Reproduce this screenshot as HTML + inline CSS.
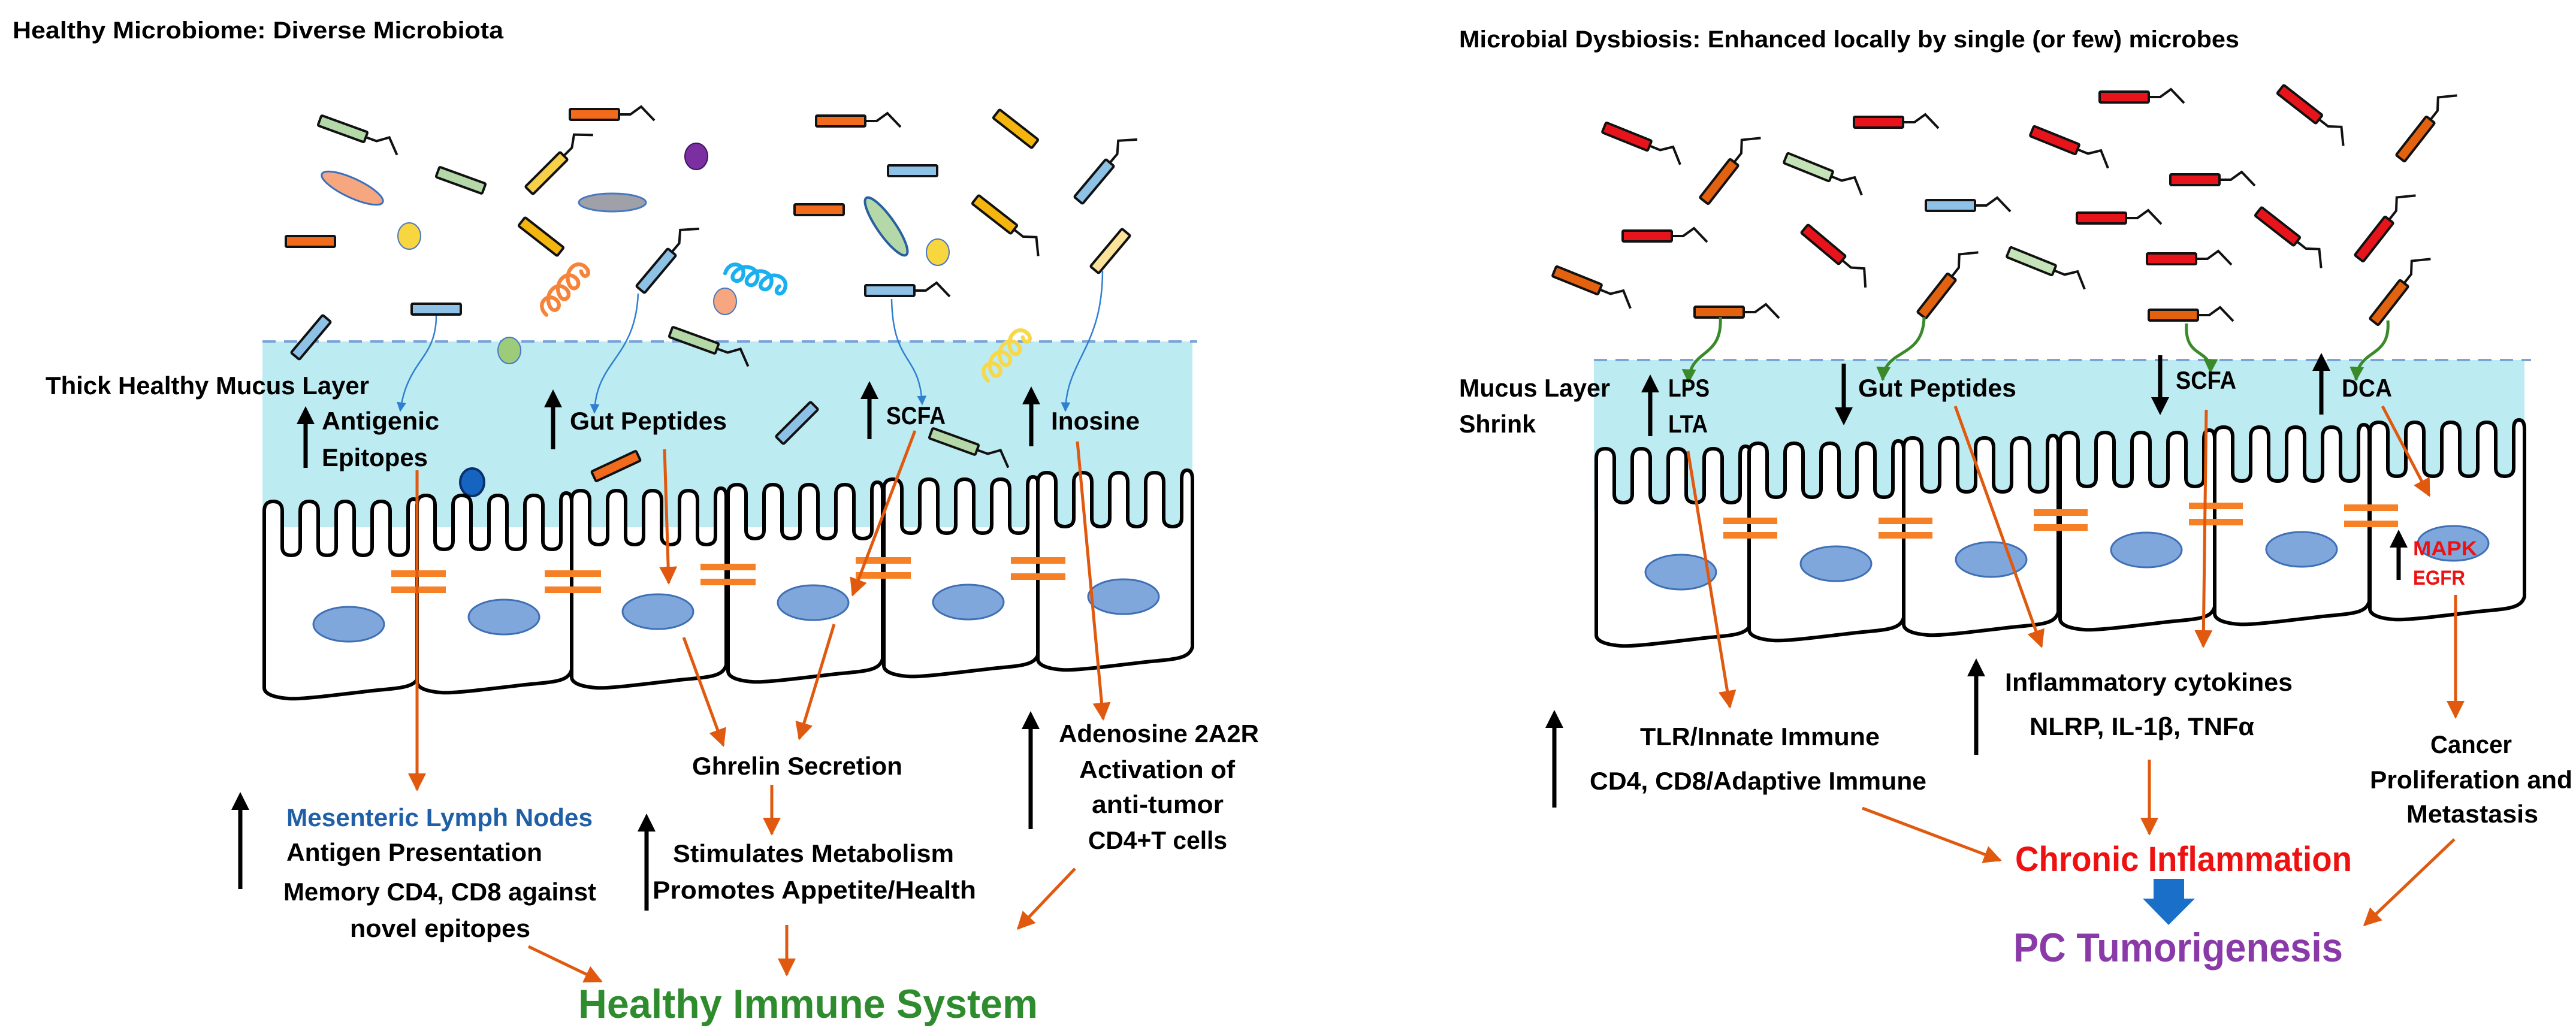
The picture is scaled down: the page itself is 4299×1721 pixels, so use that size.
<!DOCTYPE html>
<html><head><meta charset="utf-8"><style>
html,body{margin:0;padding:0;background:#fff;}
svg{display:block;}
text{font-family:"Liberation Sans",sans-serif;font-weight:bold;}
</style></head><body>
<svg width="4299" height="1721" viewBox="0 0 4299 1721" xmlns="http://www.w3.org/2000/svg">
<defs>
<marker id="ao" markerUnits="userSpaceOnUse" markerWidth="30" markerHeight="30" viewBox="0 0 10 10" refX="9" refY="5" orient="auto"><path d="M0 0 L10 5 L0 10 Z" fill="#e0590f"/></marker>
<marker id="ab" markerUnits="userSpaceOnUse" markerWidth="30" markerHeight="34" viewBox="0 0 10 10" refX="1" refY="5" orient="auto"><path d="M0 0 L10 5 L0 10 Z" fill="#000"/></marker>
<marker id="abl" markerUnits="userSpaceOnUse" markerWidth="16" markerHeight="16" viewBox="0 0 10 10" refX="9" refY="5" orient="auto"><path d="M0 0 L10 5 L0 10 Z" fill="#2f7fd0"/></marker>
<marker id="ag" markerUnits="userSpaceOnUse" markerWidth="24" markerHeight="24" viewBox="0 0 10 10" refX="9" refY="5" orient="auto"><path d="M0 0 L10 5 L0 10 Z" fill="#3a8a2a"/></marker>
<path id="cell" d="M0 330 V95 v-60 q0 -16 15 -16 q15 0 15 16 v60 q0 14 15 14 q15 0 15 -14 v-60 q0 -16 15 -16 q15 0 15 16 v60 q0 14 15 14 q15 0 15 -14 v-60 q0 -16 15 -16 q15 0 15 16 v60 q0 14 15 14 q15 0 15 -14 v-60 q0 -16 15 -16 q15 0 15 16 v60 q0 14 15 14 q15 0 15 -14 v-65 q0 -15 9 -15 q9 0 9 15 V310 C252 330 230 330 180 335 C120 342 60 350 40 348 C15 346 0 340 0 330 Z" fill="#fff" stroke="#000" stroke-width="6" stroke-linejoin="round"/>
<g id="flag"><path d="M42 0 L60 0 L78 -13 L100 10" fill="none" stroke="#111" stroke-width="4"/></g>
<path id="coil" d="M-40 28 c-6 -14 10 -22 16 -10 c4 10 -10 14 -9 2 c1 -14 18 -20 23 -8 c4 10 -10 14 -9 2 c1 -14 18 -20 23 -8 c4 10 -10 14 -9 2 c1 -14 18 -20 23 -8 c4 10 -8 12 -6 2" fill="none" stroke-width="4" stroke-linecap="round"/>
</defs>

<text x="21" y="64" font-size="40" textLength="819" lengthAdjust="spacingAndGlyphs">Healthy Microbiome: Diverse Microbiota</text>

<rect x="438" y="570" width="1552" height="310" fill="#bdebf2"/>
<line x1="438" y1="570" x2="1998" y2="570" stroke="#7aa3d8" stroke-width="4" stroke-dasharray="22 14"/>

<g stroke="#111" stroke-width="4">
<g transform="translate(572,215) rotate(20)"><rect x="-41" y="-9" width="82" height="18" rx="2" fill="#b5d8a8"/><use href="#flag"/></g>
<g transform="translate(992,191)"><rect x="-41" y="-9" width="82" height="18" rx="2" fill="#f26b1d"/><use href="#flag"/></g>
<g transform="translate(1403,202)"><rect x="-41" y="-9" width="82" height="18" rx="2" fill="#f26b1d"/><use href="#flag"/></g>
<g transform="translate(1695,215) rotate(38)"><rect x="-41" y="-9" width="82" height="18" rx="2" fill="#f5b50f"/></g>
<g transform="translate(769,301) rotate(20)"><rect x="-41" y="-9" width="82" height="18" rx="2" fill="#b5d8a8"/></g>
<g transform="translate(912,289) rotate(-45)"><rect x="-41" y="-9" width="82" height="18" rx="2" fill="#f7d04a"/><use href="#flag"/></g>
<g transform="translate(1523,285)"><rect x="-41" y="-9" width="82" height="18" rx="2" fill="#8ec1e6"/></g>
<g transform="translate(1826,303) rotate(-50)"><rect x="-41" y="-9" width="82" height="18" rx="2" fill="#8ec1e6"/><use href="#flag"/></g>
<g transform="translate(518,403)"><rect x="-41" y="-9" width="82" height="18" rx="2" fill="#f26b1d"/></g>
<g transform="translate(903,395) rotate(38)"><rect x="-41" y="-9" width="82" height="18" rx="2" fill="#f5b50f"/></g>
<g transform="translate(1367,350)"><rect x="-41" y="-9" width="82" height="18" rx="2" fill="#f26b1d"/></g>
<g transform="translate(1660,358) rotate(38)"><rect x="-41" y="-9" width="82" height="18" rx="2" fill="#f5b50f"/><use href="#flag"/></g>
<g transform="translate(1853,419) rotate(-50)"><rect x="-41" y="-9" width="82" height="18" rx="2" fill="#fbe39a"/></g>
<g transform="translate(1095,452) rotate(-50)"><rect x="-41" y="-9" width="82" height="18" rx="2" fill="#8ec1e6"/><use href="#flag"/></g>
<g transform="translate(1485,485)"><rect x="-41" y="-9" width="82" height="18" rx="2" fill="#8ec1e6"/><use href="#flag"/></g>
<g transform="translate(728,516)"><rect x="-41" y="-9" width="82" height="18" rx="2" fill="#8ec1e6"/></g>
<g transform="translate(519,563) rotate(-50)"><rect x="-41" y="-9" width="82" height="18" rx="2" fill="#8ec1e6"/></g>
<g transform="translate(1158,568) rotate(20)"><rect x="-41" y="-9" width="82" height="18" rx="2" fill="#b5d8a8"/><use href="#flag"/></g>
<g transform="translate(1330,706) rotate(-45)"><rect x="-41" y="-9" width="82" height="18" rx="2" fill="#8ec1e6"/></g>
<g transform="translate(1028,778) rotate(-25)"><rect x="-41" y="-9" width="82" height="18" rx="2" fill="#f26b1d"/></g>
<g transform="translate(1592,737) rotate(20)"><rect x="-41" y="-9" width="82" height="18" rx="2" fill="#b5d8a8"/><use href="#flag"/></g>
</g>
<ellipse cx="588" cy="314" rx="56" ry="16" transform="rotate(25 588 314)" fill="#f6a77f" stroke="#3a6fc0" stroke-width="3"/>
<ellipse cx="1022" cy="338" rx="56" ry="15" fill="#a0a0a8" stroke="#4a78c0" stroke-width="3"/>
<ellipse cx="1479" cy="378" rx="58" ry="15" transform="rotate(55 1479 378)" fill="#b5d8a8" stroke="#2a5fa0" stroke-width="4"/>
<ellipse cx="1162" cy="261" rx="19" ry="22" fill="#7b2fa0" stroke="#3a1a5a" stroke-width="2"/>
<ellipse cx="683" cy="394" rx="19" ry="22" fill="#f7d640" stroke="#4a78c0" stroke-width="2"/>
<ellipse cx="1565" cy="421" rx="19" ry="22" fill="#f7d640" stroke="#4a78c0" stroke-width="2"/>
<ellipse cx="1210" cy="503" rx="19" ry="22" fill="#f6a77f" stroke="#4a78c0" stroke-width="2"/>
<ellipse cx="850" cy="585" rx="19" ry="22" fill="#9ccc7a" stroke="#4a78c0" stroke-width="2"/>
<ellipse cx="788" cy="805" rx="20" ry="23" fill="#1565c0" stroke="#0b2f6a" stroke-width="4"/>
<use href="#coil" transform="translate(951,458) rotate(-25) scale(1.6)" stroke="#f5843a"/>
<use href="#coil" transform="translate(1288,463) rotate(40) scale(1.6)" stroke="#1ab0ef"/>
<use href="#coil" transform="translate(1688,568) rotate(-25) scale(1.6)" stroke="#f7d84a"/>

<g fill="none" stroke="#2f7fd0" stroke-width="2.5">
<path d="M728 527 C728 600 680 600 668 686" marker-end="url(#abl)"/>
<path d="M1065 490 C1060 600 995 600 992 689" marker-end="url(#abl)"/>
<path d="M1488 499 C1490 610 1535 590 1539 675" marker-end="url(#abl)"/>
<path d="M1840 452 C1840 580 1780 600 1778 686" marker-end="url(#abl)"/>
</g>

<use href="#cell" transform="translate(441,818)"/>
<use href="#cell" transform="translate(696,808)"/>
<use href="#cell" transform="translate(954,800)"/>
<use href="#cell" transform="translate(1215,790)"/>
<use href="#cell" transform="translate(1475,781)"/>
<use href="#cell" transform="translate(1732,770)"/>
<g fill="#7fa7dc" stroke="#3f6fb5" stroke-width="3">
<ellipse cx="582" cy="1042" rx="59" ry="29"/><ellipse cx="841" cy="1030" rx="59" ry="29"/><ellipse cx="1098" cy="1021" rx="59" ry="29"/>
<ellipse cx="1357" cy="1006" rx="59" ry="29"/><ellipse cx="1616" cy="1005" rx="59" ry="29"/><ellipse cx="1875" cy="996" rx="59" ry="29"/>
</g>
<g fill="#f68026">
<rect x="653" y="952" width="91" height="11"/><rect x="653" y="979" width="91" height="11"/>
<rect x="909" y="952" width="94" height="11"/><rect x="909" y="979" width="94" height="11"/>
<rect x="1169" y="941" width="92" height="11"/><rect x="1169" y="966" width="92" height="11"/>
<rect x="1428" y="930" width="92" height="11"/><rect x="1428" y="955" width="92" height="11"/>
<rect x="1687" y="930" width="91" height="11"/><rect x="1687" y="957" width="91" height="11"/>
</g>

<g stroke="#000" stroke-width="7" marker-end="url(#ab)">
<line x1="510" y1="781" x2="510" y2="705"/>
<line x1="923" y1="750" x2="923" y2="677"/>
<line x1="1451" y1="733" x2="1451" y2="663"/>
<line x1="1721" y1="745" x2="1721" y2="672"/>
<line x1="1720" y1="1384" x2="1720" y2="1214"/>
<line x1="401" y1="1484" x2="401" y2="1349"/>
<line x1="1079" y1="1520" x2="1079" y2="1385"/>
</g>

<g stroke="#e0590f" stroke-width="5" marker-end="url(#ao)">
<line x1="696" y1="785" x2="696" y2="1318"/>
<line x1="1109" y1="750" x2="1116" y2="973"/>
<line x1="1527" y1="719" x2="1423" y2="993"/>
<line x1="1798" y1="737" x2="1841" y2="1200"/>
<line x1="1141" y1="1064" x2="1207" y2="1244"/>
<line x1="1392" y1="1042" x2="1334" y2="1233"/>
<line x1="1288" y1="1310" x2="1288" y2="1392"/>
<line x1="882" y1="1580" x2="1003" y2="1638"/>
<line x1="1313" y1="1544" x2="1313" y2="1627"/>
<line x1="1794" y1="1450" x2="1699" y2="1550"/>
</g>

<g font-size="42" fill="#000">
<text x="76" y="658" textLength="540" lengthAdjust="spacingAndGlyphs">Thick Healthy Mucus Layer</text>
<text x="537" y="717" textLength="196" lengthAdjust="spacingAndGlyphs">Antigenic</text>
<text x="537" y="778" textLength="177" lengthAdjust="spacingAndGlyphs">Epitopes</text>
<text x="951" y="717" textLength="262" lengthAdjust="spacingAndGlyphs">Gut Peptides</text>
<text x="1479" y="708" textLength="99" lengthAdjust="spacingAndGlyphs">SCFA</text>
<text x="1754" y="717" textLength="148" lengthAdjust="spacingAndGlyphs">Inosine</text>
<text x="1155" y="1293" textLength="351" lengthAdjust="spacingAndGlyphs">Ghrelin Secretion</text>
<text x="1767" y="1239" textLength="334" lengthAdjust="spacingAndGlyphs">Adenosine 2A2R</text>
<text x="1801" y="1299" textLength="260" lengthAdjust="spacingAndGlyphs">Activation of</text>
<text x="1822" y="1357" textLength="220" lengthAdjust="spacingAndGlyphs">anti-tumor</text>
<text x="1816" y="1417" textLength="232" lengthAdjust="spacingAndGlyphs">CD4+T cells</text>
<text x="478" y="1379" textLength="511" lengthAdjust="spacingAndGlyphs" fill="#1f5fa8">Mesenteric Lymph Nodes</text>
<text x="478" y="1437" textLength="427" lengthAdjust="spacingAndGlyphs">Antigen Presentation</text>
<text x="473" y="1503" textLength="522" lengthAdjust="spacingAndGlyphs">Memory CD4, CD8 against</text>
<text x="584" y="1564" textLength="301" lengthAdjust="spacingAndGlyphs">novel epitopes</text>
<text x="1123" y="1439" textLength="469" lengthAdjust="spacingAndGlyphs">Stimulates Metabolism</text>
<text x="1089" y="1500" textLength="540" lengthAdjust="spacingAndGlyphs">Promotes Appetite/Health</text>
</g>
<text x="965" y="1699" font-size="68" fill="#2e8b2e" textLength="767" lengthAdjust="spacingAndGlyphs">Healthy Immune System</text>

<text x="2435" y="79" font-size="40" textLength="1302" lengthAdjust="spacingAndGlyphs">Microbial Dysbiosis: Enhanced locally by single (or few) microbes</text>

<rect x="2660" y="601" width="1553" height="250" fill="#bdebf2"/>
<line x1="2660" y1="601" x2="4224" y2="601" stroke="#7aa3d8" stroke-width="4" stroke-dasharray="22 14"/>

<g stroke="#111" stroke-width="4">
<g transform="translate(2715,228) rotate(22)"><rect x="-41" y="-9" width="82" height="18" rx="2" fill="#e8141b"/><use href="#flag"/></g>
<g transform="translate(2869,303) rotate(-52)"><rect x="-41" y="-9" width="82" height="18" rx="2" fill="#e2620f"/><use href="#flag"/></g>
<g transform="translate(3018,279) rotate(22)"><rect x="-41" y="-9" width="82" height="18" rx="2" fill="#c5e3b8"/><use href="#flag"/></g>
<g transform="translate(3135,204)"><rect x="-41" y="-9" width="82" height="18" rx="2" fill="#e8141b"/><use href="#flag"/></g>
<g transform="translate(3545,162)"><rect x="-41" y="-9" width="82" height="18" rx="2" fill="#e8141b"/><use href="#flag"/></g>
<g transform="translate(3838,174) rotate(38)"><rect x="-41" y="-9" width="82" height="18" rx="2" fill="#e8141b"/><use href="#flag"/></g>
<g transform="translate(4031,232) rotate(-52)"><rect x="-41" y="-9" width="82" height="18" rx="2" fill="#e2620f"/><use href="#flag"/></g>
<g transform="translate(3429,234) rotate(22)"><rect x="-41" y="-9" width="82" height="18" rx="2" fill="#e8141b"/><use href="#flag"/></g>
<g transform="translate(3663,300)"><rect x="-41" y="-9" width="82" height="18" rx="2" fill="#e8141b"/><use href="#flag"/></g>
<g transform="translate(2749,394)"><rect x="-41" y="-9" width="82" height="18" rx="2" fill="#e8141b"/><use href="#flag"/></g>
<g transform="translate(3255,343)"><rect x="-41" y="-9" width="82" height="18" rx="2" fill="#8ec1e6"/><use href="#flag"/></g>
<g transform="translate(3507,364)"><rect x="-41" y="-9" width="82" height="18" rx="2" fill="#e8141b"/><use href="#flag"/></g>
<g transform="translate(3043,408) rotate(40)"><rect x="-41" y="-9" width="82" height="18" rx="2" fill="#e8141b"/><use href="#flag"/></g>
<g transform="translate(2632,468) rotate(22)"><rect x="-41" y="-9" width="82" height="18" rx="2" fill="#e2620f"/><use href="#flag"/></g>
<g transform="translate(3390,436) rotate(22)"><rect x="-41" y="-9" width="82" height="18" rx="2" fill="#c5e3b8"/><use href="#flag"/></g>
<g transform="translate(3624,432)"><rect x="-41" y="-9" width="82" height="18" rx="2" fill="#e8141b"/><use href="#flag"/></g>
<g transform="translate(3801,378) rotate(38)"><rect x="-41" y="-9" width="82" height="18" rx="2" fill="#e8141b"/><use href="#flag"/></g>
<g transform="translate(3962,399) rotate(-52)"><rect x="-41" y="-9" width="82" height="18" rx="2" fill="#e8141b"/><use href="#flag"/></g>
<g transform="translate(3232,494) rotate(-52)"><rect x="-41" y="-9" width="82" height="18" rx="2" fill="#e2620f"/><use href="#flag"/></g>
<g transform="translate(2869,521)"><rect x="-41" y="-9" width="82" height="18" rx="2" fill="#e2620f"/><use href="#flag"/></g>
<g transform="translate(3627,526)"><rect x="-41" y="-9" width="82" height="18" rx="2" fill="#e2620f"/><use href="#flag"/></g>
<g transform="translate(3987,505) rotate(-52)"><rect x="-41" y="-9" width="82" height="18" rx="2" fill="#e2620f"/><use href="#flag"/></g>
</g>

<g fill="none" stroke="#3a8a2a" stroke-width="5">
<path d="M2871 529 C2875 600 2820 580 2818 638" marker-end="url(#ag)"/>
<path d="M3211 529 C3210 600 3145 580 3142 634" marker-end="url(#ag)"/>
<path d="M3649 540 C3645 600 3690 580 3689 621" marker-end="url(#ag)"/>
<path d="M3985 535 C3990 600 3935 580 3932 634" marker-end="url(#ag)"/>
</g>

<use href="#cell" transform="translate(2664,730)"/>
<use href="#cell" transform="translate(2919,721)"/>
<use href="#cell" transform="translate(3177,712)"/>
<use href="#cell" transform="translate(3438,703)"/>
<use href="#cell" transform="translate(3696,694)"/>
<use href="#cell" transform="translate(3955,686)"/>
<g fill="#7fa7dc" stroke="#3f6fb5" stroke-width="3">
<ellipse cx="2805" cy="955" rx="59" ry="29"/><ellipse cx="3064" cy="941" rx="59" ry="29"/><ellipse cx="3323" cy="934" rx="59" ry="29"/>
<ellipse cx="3582" cy="918" rx="59" ry="29"/><ellipse cx="3841" cy="917" rx="59" ry="29"/><ellipse cx="4094" cy="907" rx="59" ry="29"/>
</g>
<g fill="#f68026">
<rect x="2876" y="864" width="90" height="11"/><rect x="2876" y="888" width="90" height="11"/>
<rect x="3135" y="864" width="90" height="11"/><rect x="3135" y="888" width="90" height="11"/>
<rect x="3394" y="850" width="90" height="11"/><rect x="3394" y="875" width="90" height="11"/>
<rect x="3653" y="839" width="90" height="11"/><rect x="3653" y="866" width="90" height="11"/>
<rect x="3912" y="842" width="90" height="11"/><rect x="3912" y="869" width="90" height="11"/>
</g>

<g stroke="#000" stroke-width="7" marker-end="url(#ab)">
<line x1="2754" y1="728" x2="2754" y2="652"/>
<line x1="3077" y1="607" x2="3077" y2="683"/>
<line x1="3605" y1="593" x2="3605" y2="666"/>
<line x1="3874" y1="692" x2="3874" y2="616"/>
<line x1="4003" y1="968" x2="4003" y2="911"/>
<line x1="3298" y1="1260" x2="3298" y2="1126"/>
<line x1="2594" y1="1348" x2="2594" y2="1212"/>
</g>

<g stroke="#e0590f" stroke-width="5" marker-end="url(#ao)">
<line x1="2817" y1="753" x2="2887" y2="1180"/>
<line x1="3263" y1="678" x2="3407" y2="1079"/>
<line x1="3682" y1="684" x2="3677" y2="1079"/>
<line x1="3976" y1="678" x2="4054" y2="827"/>
<line x1="4098" y1="993" x2="4098" y2="1197"/>
<line x1="3587" y1="1268" x2="3587" y2="1392"/>
<line x1="3108" y1="1349" x2="3338" y2="1436"/>
<line x1="4096" y1="1401" x2="3946" y2="1544"/>
</g>

<g font-size="42" fill="#000">
<text x="2435" y="662" textLength="252" lengthAdjust="spacingAndGlyphs">Mucus Layer</text>
<text x="2435" y="722" textLength="128" lengthAdjust="spacingAndGlyphs">Shrink</text>
<text x="2784" y="662" textLength="69" lengthAdjust="spacingAndGlyphs">LPS</text>
<text x="2784" y="722" textLength="66" lengthAdjust="spacingAndGlyphs">LTA</text>
<text x="3101" y="662" textLength="264" lengthAdjust="spacingAndGlyphs">Gut Peptides</text>
<text x="3631" y="649" textLength="101" lengthAdjust="spacingAndGlyphs">SCFA</text>
<text x="3908" y="662" textLength="84" lengthAdjust="spacingAndGlyphs">DCA</text>
<text x="3346" y="1153" textLength="480" lengthAdjust="spacingAndGlyphs">Inflammatory cytokines</text>
<text x="3387" y="1227" textLength="375" lengthAdjust="spacingAndGlyphs">NLRP,  IL-1β,  TNFα</text>
<text x="2737" y="1244" textLength="400" lengthAdjust="spacingAndGlyphs">TLR/Innate Immune</text>
<text x="2653" y="1318" textLength="562" lengthAdjust="spacingAndGlyphs">CD4, CD8/Adaptive Immune</text>
<text x="4056" y="1257" textLength="136" lengthAdjust="spacingAndGlyphs">Cancer</text>
<text x="3955" y="1316" textLength="338" lengthAdjust="spacingAndGlyphs">Proliferation and</text>
<text x="4016" y="1373" textLength="220" lengthAdjust="spacingAndGlyphs">Metastasis</text>
</g>
<text x="4027" y="927" font-size="34" fill="#ee1111" textLength="107" lengthAdjust="spacingAndGlyphs">MAPK</text>
<text x="4027" y="976" font-size="34" fill="#ee1111" textLength="87" lengthAdjust="spacingAndGlyphs">EGFR</text>
<text x="3363" y="1454" font-size="58" fill="#ee1111" textLength="562" lengthAdjust="spacingAndGlyphs">Chronic Inflammation</text>
<path d="M3594 1467 H3645 V1500 H3663 L3619 1544 L3576 1500 H3594 Z" fill="#1a6fc8"/>
<text x="3360" y="1605" font-size="68" fill="#8a3aa8" textLength="550" lengthAdjust="spacingAndGlyphs">PC Tumorigenesis</text>
</svg>
</body></html>
